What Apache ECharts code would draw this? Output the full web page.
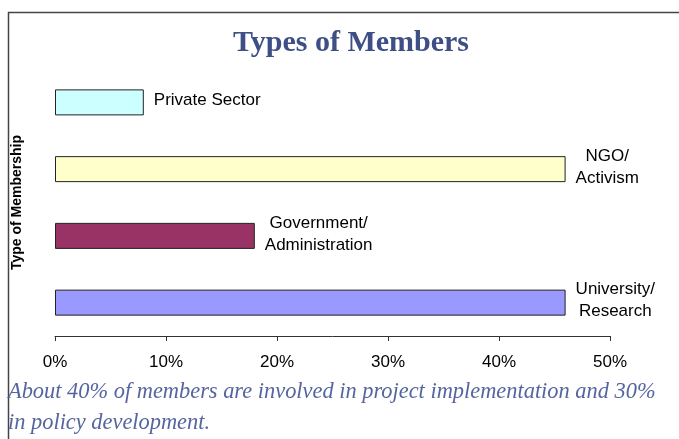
<!DOCTYPE html>
<html>
<head>
<meta charset="utf-8">
<script src="https://cdn.jsdelivr.net/npm/echarts@6/dist/echarts.min.js"></script>
<style>
  html, body { margin: 0; padding: 0; background: #fff; }
  #chart { width: 679px; height: 439px; }
</style>
</head>
<body>
<div id="chart"></div>
<script>
// categories bottom -> top (category axis draws first item at bottom)
const categories = ['University/\nResearch', 'Government/\nAdministration', 'NGO/\nActivism', 'Private Sector']
const values = [46, 18, 46, 8]
const barColors = ['#9999ff', '#993366', '#ffffcc', '#ccffff']
const tickLabels = ['0%', '10%', '20%', '30%', '40%', '50%']
const caption = 'About 40% of members are involved in project implementation and 30%\nin policy development.'

let myChart = echarts.init(document.getElementById('chart'))

let seriesData = values.map((v, i) => {
  let lines = categories[i].split('\n')
  return {
    value: v,
    itemStyle: { color: barColors[i] },
    label: {
      formatter: lines.map(l => '{c|' + l + '}').join('\n')
    }
  }
})

let option = {
  animation: false,
  title: {
    text: 'Types of Members',
    left: 346,
    textAlign: 'center',
    top: 23,
    textStyle: {
      fontFamily: 'Liberation Serif',
      fontWeight: 'bold',
      fontSize: 30,
      color: '#3e4f86'
    }
  },
  grid: {
    left: 55,
    right: 69,
    top: 69,
    bottom: 103
  },
  xAxis: {
    type: 'value',
    min: 0,
    max: 50,
    interval: 10,
    axisLine: { show: true, lineStyle: { color: '#333', width: 1 } },
    axisTick: { show: true, length: 5, lineStyle: { color: '#333' } },
    splitLine: { show: false },
    axisLabel: {
      margin: 18,
      fontFamily: 'Liberation Sans',
      fontSize: 17,
      color: '#000',
      formatter: (v) => tickLabels[v / 10]
    }
  },
  yAxis: {
    type: 'category',
    data: categories,
    name: 'Type of Membership',
    nameLocation: 'middle',
    nameRotate: 90,
    nameGap: 31,
    nameTextStyle: {
      fontFamily: 'Liberation Sans',
      fontWeight: 'bold',
      fontSize: 14,
      color: '#000'
    },
    axisLine: { show: false },
    axisTick: { show: false },
    axisLabel: { show: false },
    splitLine: { show: false }
  },
  series: [
    {
      type: 'bar',
      barWidth: 26,
      data: seriesData,
      itemStyle: {
        borderColor: '#222',
        borderWidth: 1
      },
      label: {
        show: true,
        position: 'right',
        distance: 10,
        offset: [0, -2],
        lineHeight: 22,
        rich: {
          c: {
            align: 'center',
            fontFamily: 'Liberation Sans',
            fontSize: 17,
            lineHeight: 22,
            color: '#000'
          }
        }
      }
    }
  ],
  graphic: [
    {
      type: 'polyline',
      shape: { points: [[8.5, 439], [8.5, 12.5], [679, 12.5]] },
      style: { stroke: '#444', lineWidth: 1.5, fill: null },
      silent: true
    },
    {
      type: 'text',
      left: 8,
      top: 377,
      style: {
        text: caption,
        fontFamily: 'Liberation Serif',
        fontStyle: 'italic',
        fontSize: 22.4,
        lineHeight: 31,
        fill: '#5565a0'
      }
    }
  ]
}
myChart.setOption(option)
</script>
</body>
</html>
